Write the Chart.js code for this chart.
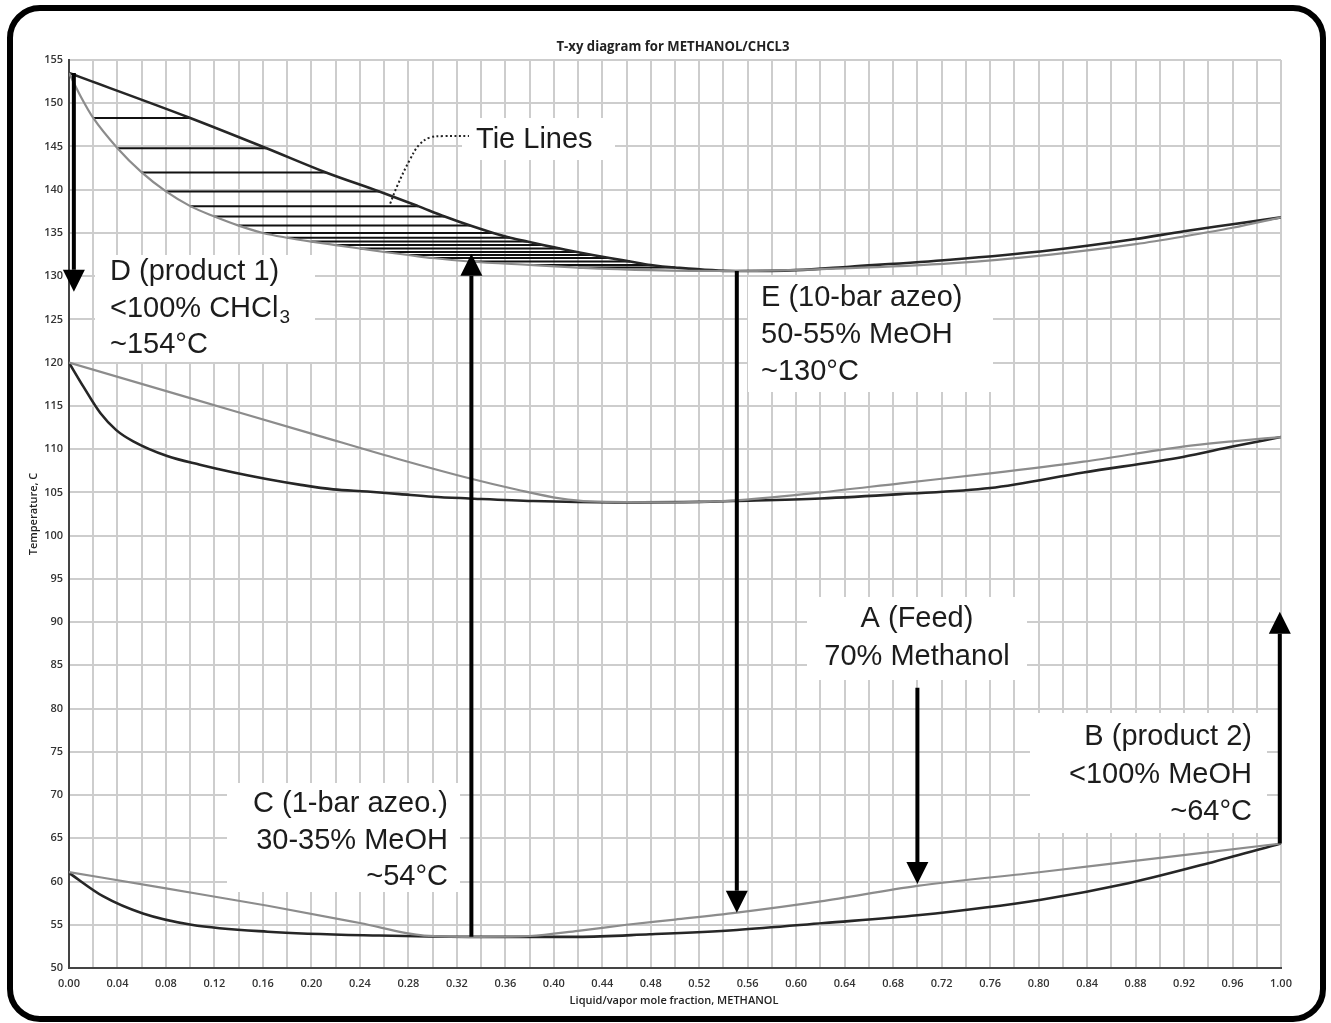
<!DOCTYPE html>
<html>
<head>
<meta charset="utf-8">
<script src="https://cdn.jsdelivr.net/npm/chart.js@4.4.0/dist/chart.umd.min.js"></script>
<style>
  html, body { margin: 0; padding: 0; background: #fff; }
  #wrap { width: 1331px; height: 1023px; }
</style>
</head>
<body>
<div id="wrap"><canvas id="grafico" width="1331" height="1023"></canvas></div>
<script>
// 10 bar: liquido (cinza) e vapor (escuro)
const altaLiqX = [0, 0.01, 0.02, 0.04, 0.06, 0.08, 0.10, 0.12, 0.14, 0.16, 0.18, 0.20, 0.22, 0.24, 0.26, 0.28, 0.30, 0.33, 0.38, 0.42, 0.48, 0.55, 0.64, 0.73, 0.81, 0.88, 0.92, 0.96, 1.00];
const altaLiqT = [153.5, 150.7, 148.3, 144.8, 142.0, 139.8, 138.1, 136.9, 135.85, 135.0, 134.45, 134.0, 133.6, 133.2, 132.8, 132.45, 132.1, 131.7, 131.3, 131.0, 130.7, 130.6, 130.9, 131.5, 132.5, 133.7, 134.6, 135.6, 136.8];
const altaVapX = [0, 0.10, 0.163, 0.212, 0.256, 0.288, 0.31, 0.331, 0.35, 0.364, 0.378, 0.391, 0.405, 0.419, 0.432, 0.446, 0.463, 0.48, 0.50, 0.55, 0.60, 0.644, 0.727, 0.81, 0.88, 0.92, 0.96, 1.00];
const altaVapT = [153.5, 148.3, 144.8, 142.0, 139.8, 138.1, 136.9, 135.85, 135.0, 134.45, 134.0, 133.6, 133.2, 132.8, 132.45, 132.1, 131.7, 131.3, 131.0, 130.6, 130.7, 131.1, 131.9, 133.0, 134.3, 135.2, 136.0, 136.8];

// curvas do meio
const mediaLiqX = [0, 0.012, 0.026, 0.039, 0.053, 0.081, 0.108, 0.136, 0.163, 0.19, 0.218, 0.246, 0.273, 0.30, 0.33, 0.383, 0.45, 0.52, 0.548, 0.62, 0.686, 0.76, 0.837, 0.919, 0.96, 1.00];
const mediaLiqT = [120, 117.2, 114.15, 112.2, 110.9, 109.2, 108.2, 107.3, 106.55, 105.9, 105.35, 105.1, 104.8, 104.5, 104.3, 104.0, 103.85, 103.9, 104.0, 104.3, 104.8, 105.5, 107.3, 109.1, 110.3, 111.4];
const mediaVapX = [0, 0.10, 0.20, 0.273, 0.331, 0.37, 0.405, 0.43, 0.50, 0.548, 0.62, 0.686, 0.76, 0.837, 0.919, 0.96, 1.00];
const mediaVapT = [120, 115.9, 111.8, 108.8, 106.6, 105.3, 104.3, 103.95, 103.85, 104.05, 105.0, 106.05, 107.2, 108.55, 110.3, 110.9, 111.4];

// 1 bar
const baixaLiqX = [0, 0.028, 0.061, 0.101, 0.164, 0.256, 0.33, 0.42, 0.479, 0.551, 0.623, 0.70, 0.802, 0.874, 0.945, 1.00];
const baixaLiqT = [61.0, 58.3, 56.3, 55.0, 54.2, 53.75, 53.6, 53.6, 53.9, 54.4, 55.2, 56.1, 57.9, 59.8, 62.3, 64.4];
const baixaVapX = [0, 0.08, 0.164, 0.24, 0.293, 0.34, 0.38, 0.42, 0.46, 0.50, 0.551, 0.62, 0.70, 0.802, 0.874, 1.00];
const baixaVapT = [61.1, 59.2, 57.2, 55.2, 53.75, 53.6, 53.7, 54.3, 55.0, 55.6, 56.4, 57.7, 59.5, 61.1, 62.3, 64.4];

// linhas de amarração (tie lines)
const amarraT = [148.3, 144.8, 142.0, 139.8, 138.1, 136.9, 135.85, 135.0, 134.45, 134.0, 133.6, 133.2, 132.8, 132.45, 132.1, 131.7, 131.3, 131.0];
const amarraLiqX = [0.02, 0.04, 0.06, 0.08, 0.10, 0.12, 0.14, 0.16, 0.18, 0.20, 0.22, 0.24, 0.26, 0.28, 0.30, 0.33, 0.38, 0.42];
const amarraVapX = [0.10, 0.163, 0.212, 0.256, 0.288, 0.31, 0.331, 0.35, 0.364, 0.378, 0.391, 0.405, 0.419, 0.432, 0.446, 0.463, 0.48, 0.50];

// linha pontilhada do rótulo "Tie Lines"
const guiaX = [0.265, 0.271, 0.281, 0.289, 0.298, 0.309, 0.33];
const guiaT = [138.4, 140.5, 143.4, 145.2, 146.05, 146.2, 146.2];

// setas: posição x, temperatura de saída e de chegada
const setaX = [0.004, 0.332, 0.551, 0.70, 0.999];
const setaDe = [153.5, 53.6, 130.6, 82.4, 64.4];
const setaAte = [128.2, 132.6, 56.4, 59.7, 91.2];

const rotuloD = ['D (product 1)', '<100% CHCl₃', '~154°C'];
const rotuloE = ['E (10-bar azeo)', '50-55% MeOH', '~130°C'];
const rotuloA = ['A (Feed)', '70% Methanol'];
const rotuloB = ['B (product 2)', '<100% MeOH', '~64°C'];
const rotuloC = ['C (1-bar azeo.)', '30-35% MeOH', '~54°C'];
const rotuloTie = 'Tie Lines';

const titulo = 'T-xy diagram for METHANOL/CHCL3';
const tituloX = 'Liquid/vapor mole fraction, METHANOL';
const tituloY = 'Temperature, C';

const ESCURO = '#262626';
const CINZA = '#8c8c8c';

function pares(xs, ts) {
  return xs.map((x, i) => ({ x: x, y: ts[i] }));
}

function curva(xs, ts, cor, largura) {
  return {
    data: pares(xs, ts),
    showLine: true,
    borderColor: cor,
    borderWidth: largura,
    pointRadius: 0,
    cubicInterpolationMode: 'monotone'
  };
}

const datasets = [
  curva(altaLiqX, altaLiqT, CINZA, 2.2),
  curva(altaVapX, altaVapT, ESCURO, 2.6),
  curva(mediaVapX, mediaVapT, CINZA, 2.2),
  curva(mediaLiqX, mediaLiqT, ESCURO, 2.6),
  curva(baixaVapX, baixaVapT, CINZA, 2.2),
  curva(baixaLiqX, baixaLiqT, ESCURO, 2.6)
];

amarraT.forEach((t, i) => {
  datasets.push({
    data: [{ x: amarraLiqX[i], y: t }, { x: amarraVapX[i], y: t }],
    showLine: true,
    borderColor: '#111',
    borderWidth: 2,
    pointRadius: 0
  });
});

datasets.push({
  data: pares(guiaX, guiaT),
  showLine: true,
  borderColor: '#222',
  borderWidth: 2,
  borderDash: [2, 2.5],
  pointRadius: 0,
  tension: 0.4
});

function caixa(ctx, x, y, w, h) {
  ctx.fillStyle = '#fff';
  ctx.fillRect(x, y, w, h);
}

function escrever(ctx, linhas, x, y0, passo, alinha) {
  ctx.font = '29px "Liberation Sans", Arial, sans-serif';
  ctx.fillStyle = '#1c1c1c';
  ctx.textAlign = alinha;
  ctx.textBaseline = 'alphabetic';
  linhas.forEach((t, i) => {
    const y = y0 + i * passo;
    if (t.indexOf('₃') >= 0) {
      const base = t.replace('₃', '');
      ctx.textAlign = 'left';
      ctx.fillText(base, x, y);
      const w = ctx.measureText(base).width;
      ctx.font = '19px "Liberation Sans", Arial, sans-serif';
      ctx.fillText('3', x + w + 1, y + 6);
      ctx.font = '29px "Liberation Sans", Arial, sans-serif';
      ctx.textAlign = alinha;
    } else {
      ctx.fillText(t, x, y);
    }
  });
}

function seta(ctx, x, y0, y1) {
  const dir = y1 < y0 ? -1 : 1;
  const cab = 22, meia = 11;
  ctx.strokeStyle = '#000';
  ctx.fillStyle = '#000';
  ctx.lineWidth = 4;
  ctx.beginPath();
  ctx.moveTo(x, y0);
  ctx.lineTo(x, y1 - dir * cab);
  ctx.stroke();
  ctx.beginPath();
  ctx.moveTo(x, y1);
  ctx.lineTo(x - meia, y1 - dir * cab);
  ctx.lineTo(x + meia, y1 - dir * cab);
  ctx.closePath();
  ctx.fill();
}

const anotacoes = {
  id: 'anotacoes',
  beforeDatasetsDraw(chart) {
    const ctx = chart.ctx;
    ctx.save();
    caixa(ctx, 95, 255, 220, 107);
    caixa(ctx, 462, 118, 153, 42);
    caixa(ctx, 748, 277, 245, 115);
    caixa(ctx, 807, 597, 220, 83);
    caixa(ctx, 1030, 713, 237, 120);
    caixa(ctx, 227, 783, 233, 109);
    ctx.restore();
  },
  afterDatasetsDraw(chart) {
    const ctx = chart.ctx;
    const sx = chart.scales.x, sy = chart.scales.y;
    ctx.save();
    setaX.forEach((x, i) => {
      seta(ctx, sx.getPixelForValue(x), sy.getPixelForValue(setaDe[i]), sy.getPixelForValue(setaAte[i]));
    });
    escrever(ctx, rotuloD, 110, 280, 36.5, 'left');
    escrever(ctx, [rotuloTie], 476, 148, 0, 'left');
    escrever(ctx, rotuloE, 761, 306, 37, 'left');
    escrever(ctx, rotuloA, 917, 627, 38, 'center');
    escrever(ctx, rotuloB, 1252, 745, 37.5, 'right');
    escrever(ctx, rotuloC, 448, 812, 36.5, 'right');
    ctx.restore();
  },
  afterDraw(chart) {
    const ctx = chart.ctx;
    ctx.save();
    // moldura arredondada
    ctx.strokeStyle = '#000';
    ctx.lineWidth = 6;
    ctx.beginPath();
    ctx.roundRect(10, 8, 1313, 1011, 30);
    ctx.stroke();

    ctx.fillStyle = '#222';
    ctx.textAlign = 'center';
    ctx.textBaseline = 'middle';
    ctx.font = 'bold 14px "Open Sans", sans-serif';
    const w = ctx.measureText(titulo).width;
    ctx.save();
    ctx.translate(673, 47);
    ctx.scale(233 / w, 1);
    ctx.fillText(titulo, 0, 0);
    ctx.restore();

    ctx.font = '600 11px "Open Sans", sans-serif';
    ctx.fillText(tituloX, 674, 1001);
    ctx.save();
    ctx.translate(34, 514);
    ctx.rotate(-Math.PI / 2);
    ctx.fillText(tituloY, 0, 0);
    ctx.restore();
    ctx.restore();
  }
};

new Chart(document.getElementById('grafico'), {
  type: 'scatter',
  data: { datasets: datasets },
  options: {
    responsive: false,
    animation: false,
    devicePixelRatio: 1,
    layout: { padding: { top: 60, right: 50, left: 0, bottom: 0 } },
    plugins: { legend: { display: false }, tooltip: { enabled: false } },
    scales: {
      x: {
        type: 'linear',
        min: 0,
        max: 1,
        afterFit: s => { s.height = 55; },
        grid: { color: '#cdcdcd', lineWidth: 2, drawTicks: false },
        border: { color: '#444', width: 2 },
        ticks: {
          stepSize: 0.02,
          autoSkip: false,
          maxRotation: 0,
          padding: 9,
          color: '#333',
          font: { family: '"Open Sans", sans-serif', size: 11, weight: '600' },
          callback: v => (Math.round(v * 100) % 4 === 0 ? v.toFixed(2) : '')
        }
      },
      y: {
        min: 50,
        max: 155,
        afterFit: s => { s.width = 69; },
        grid: { color: '#cdcdcd', lineWidth: 2, drawTicks: false },
        border: { color: '#444', width: 2 },
        ticks: {
          stepSize: 5,
          padding: 6,
          color: '#333',
          font: { family: '"Open Sans", sans-serif', size: 11, weight: '600' }
        }
      }
    }
  },
  plugins: [anotacoes]
});
</script>
</body>
</html>
